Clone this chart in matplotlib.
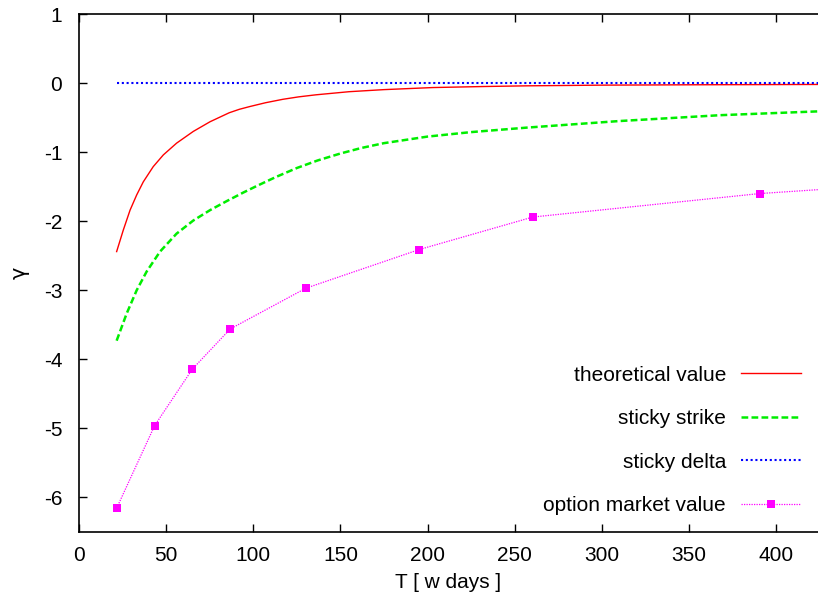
import matplotlib.pyplot as plt

plt.rcParams['font.family'] = ['Liberation Sans', 'DejaVu Sans']
plt.rcParams['axes.unicode_minus'] = False

# theoretical value
t_theo = [21.6, 25.4, 29.3, 33.1, 36.9, 42.6, 48.4, 56, 65.6, 75.2, 86.2, 92, 98, 107, 117,
          126, 136, 155, 175, 203, 232, 257, 300, 350, 424]
g_theo = [-2.44, -2.13, -1.84, -1.62, -1.43, -1.21, -1.04, -0.87, -0.70, -0.56, -0.43, -0.38,
          -0.34, -0.285, -0.235, -0.2, -0.17, -0.125, -0.095, -0.065, -0.05, -0.04, -0.03,
          -0.025, -0.02]

# sticky strike
t_strike = [21.6, 27.3, 33.1, 38.8, 46.5, 56, 65.6, 75.2, 84.7, 94.3, 102, 113, 125, 137,
            150, 162, 175, 200, 225, 257, 310, 368, 424]
g_strike = [-3.73, -3.34, -3.0, -2.73, -2.44, -2.18, -1.99, -1.84, -1.71, -1.585, -1.49,
            -1.36, -1.23, -1.12, -1.02, -0.94, -0.87, -0.775, -0.71, -0.645, -0.55, -0.465,
            -0.41]

# sticky delta
t_delta = [21.6, 424]
g_delta = [0.0, 0.0]

# option market value
t_mkt = [21.7, 43.4, 65.1, 86.8, 130.2, 195.3, 260.4, 390.6, 520.8]
g_mkt = [-6.15, -4.96, -4.14, -3.56, -2.97, -2.41, -1.94, -1.60, -1.38]

fig = plt.figure(figsize=(8.18, 6.01), dpi=100)
ax = fig.add_axes([79 / 818, 1 - 532 / 601, 1 - 79 / 818, (532 - 14) / 601])

ax.plot(t_theo, g_theo, color='#ff0000', lw=1.0, label='theoretical value')
ax.plot(t_strike, g_strike, color='#00ee00', lw=1.8, linestyle=(0, (2.7, 1.3)),
        label='sticky strike')
ax.plot(t_delta, g_delta, color='#0000ff', lw=1.5, linestyle=(0, (1, 1.3)),
        label='sticky delta')
ax.plot(t_mkt, g_mkt, color='#ff00ff', lw=0.9, linestyle=(0, (1, 1)), marker='s',
        markersize=5.8, markeredgewidth=0, label='option market value')

ax.set_xlim(0, 424.1)
ax.set_ylim(-6.5, 1)
ax.set_xticks(range(0, 401, 50))
ax.set_yticks(range(-6, 2))
ax.tick_params(direction='in', length=6, width=1, labelsize=15, top=True, right=False)
ax.tick_params(axis='x', pad=10)
ax.tick_params(axis='y', pad=12)
ax.spines['right'].set_visible(False)
for s in ['left', 'bottom', 'top']:
    ax.spines[s].set_linewidth(1.2)

ax.set_xlabel('T [ w days ]', fontsize=15, labelpad=6)
ax.set_ylabel('γ', fontsize=15, family='DejaVu Sans', labelpad=10)

ax.legend(loc='lower right', frameon=False, markerfirst=False, fontsize=15,
          handlelength=2.9, handletextpad=0.72, labelspacing=1.18,
          borderaxespad=0.4, numpoints=1)

fig.savefig('out.png', dpi=100)
